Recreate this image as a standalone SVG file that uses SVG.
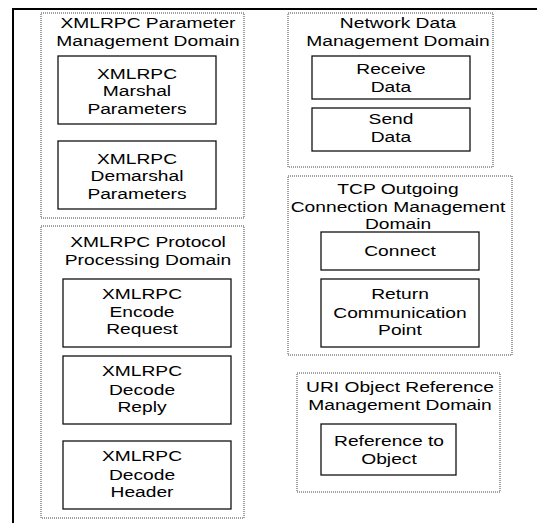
<svg xmlns="http://www.w3.org/2000/svg" width="537" height="523" viewBox="0 0 537 523">
<style>
.dom{fill:#fff;stroke:#444;stroke-width:1;stroke-dasharray:1 1}
.box{fill:#fff;stroke:#111;stroke-width:1.3}
text{font-family:"Liberation Sans",Arial,sans-serif;font-size:15.5px;fill:#000;text-anchor:middle}
.frame{stroke:#000;stroke-width:2;fill:none}
</style>
<rect width="537" height="523" fill="#fff"/>
<g id="frame">
<path class="frame" d="M13 523 V9 H537"/>
</g>
<g id="connectors"></g>
<g id="param-domain">
<rect class="dom" x="41" y="13" width="203" height="205"/>
<text transform="matrix(1.24 0 0 1 148 0)"><tspan x="0" y="28">XMLRPC Parameter</tspan><tspan x="0" y="46">Management Domain</tspan></text>
</g>
<g id="marshal">
<rect class="box" x="58" y="56" width="158" height="68"/>
<text transform="matrix(1.24 0 0 1 137 0)"><tspan x="0" y="79">XMLRPC</tspan><tspan x="0" y="96.5">Marshal</tspan><tspan x="0" y="114">Parameters</tspan></text>
</g>
<g id="demarshal">
<rect class="box" x="58" y="141" width="158" height="68"/>
<text transform="matrix(1.24 0 0 1 137 0)"><tspan x="0" y="164">XMLRPC</tspan><tspan x="0" y="181.5">Demarshal</tspan><tspan x="0" y="199">Parameters</tspan></text>
</g>
<g id="protocol-domain">
<rect class="dom" x="41" y="226" width="203" height="292"/>
<text transform="matrix(1.24 0 0 1 148 0)"><tspan x="0" y="247">XMLRPC Protocol</tspan><tspan x="0" y="265">Processing Domain</tspan></text>
</g>
<g id="encode-request">
<rect class="box" x="63" y="279" width="168" height="68"/>
<text transform="matrix(1.24 0 0 1 142 0)"><tspan x="0" y="299">XMLRPC</tspan><tspan x="0" y="317">Encode</tspan><tspan x="0" y="334.5">Request</tspan></text>
</g>
<g id="decode-reply">
<rect class="box" x="63" y="356" width="168" height="68"/>
<text transform="matrix(1.24 0 0 1 142 0)"><tspan x="0" y="376.5">XMLRPC</tspan><tspan x="0" y="395">Decode</tspan><tspan x="0" y="412.5">Reply</tspan></text>
</g>
<g id="decode-header">
<rect class="box" x="63" y="441" width="168" height="68"/>
<text transform="matrix(1.24 0 0 1 142 0)"><tspan x="0" y="461.5">XMLRPC</tspan><tspan x="0" y="480">Decode</tspan><tspan x="0" y="497.5">Header</tspan></text>
</g>
<g id="network-domain">
<rect class="dom" x="288" y="13" width="205" height="154"/>
<text transform="matrix(1.24 0 0 1 398 0)"><tspan x="0" y="28">Network Data</tspan><tspan x="0" y="46">Management Domain</tspan></text>
</g>
<g id="receive-data">
<rect class="box" x="312" y="56" width="158" height="43"/>
<text transform="matrix(1.24 0 0 1 391 0)"><tspan x="0" y="74.5">Receive</tspan><tspan x="0" y="92.5">Data</tspan></text>
</g>
<g id="send-data">
<rect class="box" x="312" y="108" width="158" height="43"/>
<text transform="matrix(1.24 0 0 1 391 0)"><tspan x="0" y="124.5">Send</tspan><tspan x="0" y="142.5">Data</tspan></text>
</g>
<g id="tcp-domain">
<rect class="dom" x="288" y="176" width="224" height="179"/>
<text transform="matrix(1.24 0 0 1 398 0)"><tspan x="0" y="194">TCP Outgoing</tspan><tspan x="0" y="212">Connection Management</tspan><tspan x="0" y="229.5">Domain</tspan></text>
</g>
<g id="connect">
<rect class="box" x="321" y="232" width="158" height="38"/>
<text transform="matrix(1.24 0 0 1 400 0)"><tspan x="0" y="256">Connect</tspan></text>
</g>
<g id="return-point">
<rect class="box" x="321" y="279" width="158" height="68"/>
<text transform="matrix(1.24 0 0 1 400 0)"><tspan x="0" y="299">Return</tspan><tspan x="0" y="318">Communication</tspan><tspan x="0" y="335.5">Point</tspan></text>
</g>
<g id="uri-domain">
<rect class="dom" x="297" y="373" width="203" height="119"/>
<text transform="matrix(1.24 0 0 1 400 0)"><tspan x="0" y="392">URI Object Reference</tspan><tspan x="0" y="410">Management Domain</tspan></text>
</g>
<g id="reference-object">
<rect class="box" x="321" y="424" width="135" height="51"/>
<text transform="matrix(1.24 0 0 1 389 0)"><tspan x="0" y="446.5">Reference to</tspan><tspan x="0" y="464">Object</tspan></text>
</g>
</svg>
